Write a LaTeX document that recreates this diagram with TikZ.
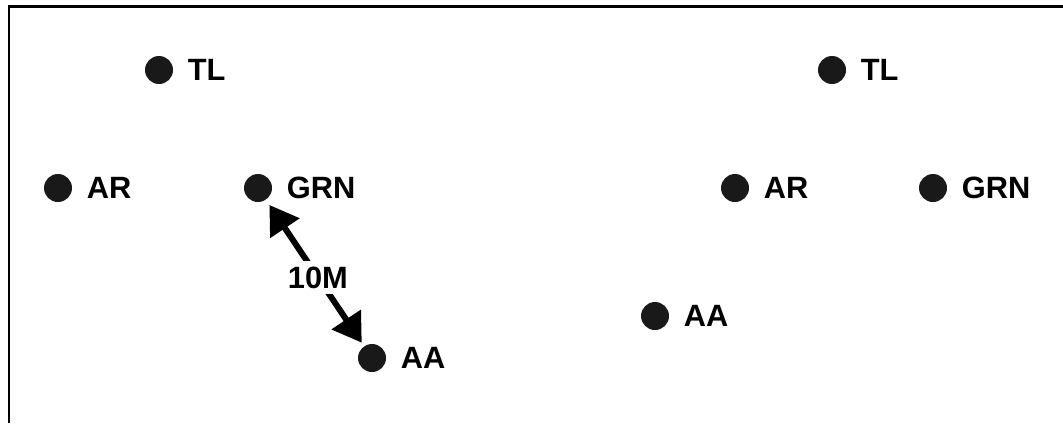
\documentclass[tikz,border=0pt]{standalone}
\usepackage{fontspec}
\setmainfont{Liberation Sans}
\usetikzlibrary{arrows.meta}

\begin{document}
\begin{tikzpicture}[x=0.5pt, y=-0.5pt, >={Triangle[length=14pt, width=17pt]},
      marker/.style={circle, fill=black!90, inner sep=0pt, minimum size=14pt},
      tag/.style={font=\bfseries\fontsize{15.4}{16}\selectfont, inner sep=0pt, text depth=0pt},
      label distance=7pt]
    \useasboundingbox (0,0) rectangle (1063,423);
    \draw[line width=1.2pt] (9,423) -- (9,6.5) -- (1063,6.5);

    \node[marker, label={[tag]right:TL}] (tlA) at (159,70) {};
    \node[marker, label={[tag]right:AR}] (arA) at (58,188) {};
    \node[marker, label={[tag]right:GRN}] (grnA) at (258,188) {};
    \node[marker, label={[tag]right:AA}] (aaA) at (372,358) {};

    \node[marker, label={[tag]right:TL}] (tlB) at (832,70) {};
    \node[marker, label={[tag]right:AR}] (arB) at (735,188) {};
    \node[marker, label={[tag]right:GRN}] (grnB) at (933,188) {};
    \node[marker, label={[tag]right:AA}] (aaB) at (655,316) {};

    \draw[<->, line width=3pt, shorten <=3pt, shorten >=2pt] (grnA) --
        node[tag, fill=white, inner sep=3pt, pos=0.53] {10M} (aaA);
\end{tikzpicture}
\end{document}
